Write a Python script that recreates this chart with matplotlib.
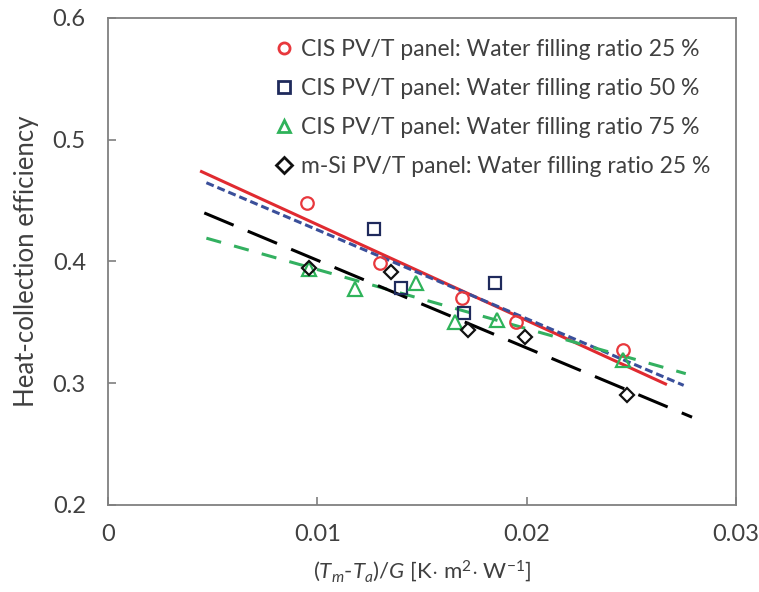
import matplotlib
matplotlib.use("Agg")
import matplotlib.pyplot as plt
import numpy as np

plt.rcParams["font.family"] = ["Lato", "DejaVu Sans"]
plt.rcParams["mathtext.fontset"] = "custom"
plt.rcParams["mathtext.rm"] = "Lato"
plt.rcParams["mathtext.it"] = "Lato:italic"

# measured points, x = (Tm-Ta)/G, y = heat-collection efficiency
cis25_x = [0.0095, 0.0130, 0.0169, 0.0195, 0.0246]
cis25_y = [0.448, 0.399, 0.370, 0.350, 0.327]
cis50_x = [0.0127, 0.0140, 0.0170, 0.0185]
cis50_y = [0.427, 0.378, 0.358, 0.382]
cis75_x = [0.0096, 0.0118, 0.0147, 0.0166, 0.0186, 0.0246]
cis75_y = [0.394, 0.377, 0.382, 0.350, 0.352, 0.319]
msi25_x = [0.0096, 0.0135, 0.0172, 0.0199, 0.0248]
msi25_y = [0.395, 0.391, 0.344, 0.338, 0.290]

# linear trendlines: y = a + b*x over [x0, x1]
trend_a = [0.509, 0.499, 0.442, 0.473]
trend_b = [-7.87, -7.30, -4.86, -7.20]
trend_x0 = [0.0044, 0.0047, 0.0047, 0.0046]
trend_x1 = [0.0267, 0.0275, 0.0276, 0.0279]

labels = [
    "CIS PV/T panel: Water filling ratio 25 %",
    "CIS PV/T panel: Water filling ratio 50 %",
    "CIS PV/T panel: Water filling ratio 75 %",
    "m-Si PV/T panel: Water filling ratio 25 %",
]
colors = ["#e8383d", "#1f2a5c", "#2fb35a", "#111111"]
line_colors = ["#e02a30", "#3a4f9a", "#33b060", "#000000"]
markers = ["o", "s", "^", "D"]
msizes = [9, 9, 10, 7]
dash_styles = [None, (2.6, 1.3), (5.0, 4.4), (10.4, 5.0)]

series = [(cis25_x, cis25_y), (cis50_x, cis50_y), (cis75_x, cis75_y), (msi25_x, msi25_y)]

fig = plt.figure(figsize=(7.59, 5.92), dpi=100)
ax = fig.add_axes([0.1423, 0.147, 0.8274, 0.8226])

for i in range(4):
    xs = np.array([trend_x0[i], trend_x1[i]])
    ys = trend_a[i] + trend_b[i] * xs
    if dash_styles[i] is None:
        ax.plot(xs, ys, color=line_colors[i], lw=2.2, solid_capstyle="butt", zorder=2)
    else:
        ax.plot(xs, ys, color=line_colors[i], lw=2.2, dashes=dash_styles[i], zorder=2)

for i, (xs, ys) in enumerate(series):
    ax.plot(xs, ys, linestyle="none", marker=markers[i], markersize=msizes[i],
            markerfacecolor="none", markeredgecolor=colors[i], markeredgewidth=1.6,
            label=labels[i], zorder=3)

ax.set_xlim(0, 0.03)
ax.set_ylim(0.2, 0.6)
ax.set_xticks([0, 0.01, 0.02, 0.03])
ax.set_xticklabels(["0", "0.01", "0.02", "0.03"])
ax.set_yticks([0.2, 0.3, 0.4, 0.5, 0.6])
ax.set_yticklabels(["0.2", "0.3", "0.4", "0.5", "0.6"])
ax.tick_params(direction="in", length=6, width=1.2, color="#7f7f7f",
               labelsize=17, labelcolor="#404040")
ax.tick_params(axis="x", pad=14)
ax.tick_params(axis="y", pad=16)
for sp in ax.spines.values():
    sp.set_color("#808080")
    sp.set_linewidth(1.3)

ax.set_xlabel(r"$(T_m$-$T_a)/G$ [K$\cdot$ m$^2$$\cdot$ W$^{-1}$]", fontsize=16,
              color="#404040", labelpad=9)
ax.set_ylabel("Heat-collection efficiency", fontsize=18.5, color="#404040", labelpad=10)

leg = ax.legend(loc="upper right", bbox_to_anchor=(1.0, 1.008), frameon=False,
                fontsize=16.5, handletextpad=0.25, labelspacing=0.78,
                borderaxespad=0.7, handlelength=1.0, labelcolor="#404040")
for h in leg.legend_handles:
    h.set_markersize(8)
    h.set_markeredgewidth(2)

fig.savefig("out.png", dpi=100)
